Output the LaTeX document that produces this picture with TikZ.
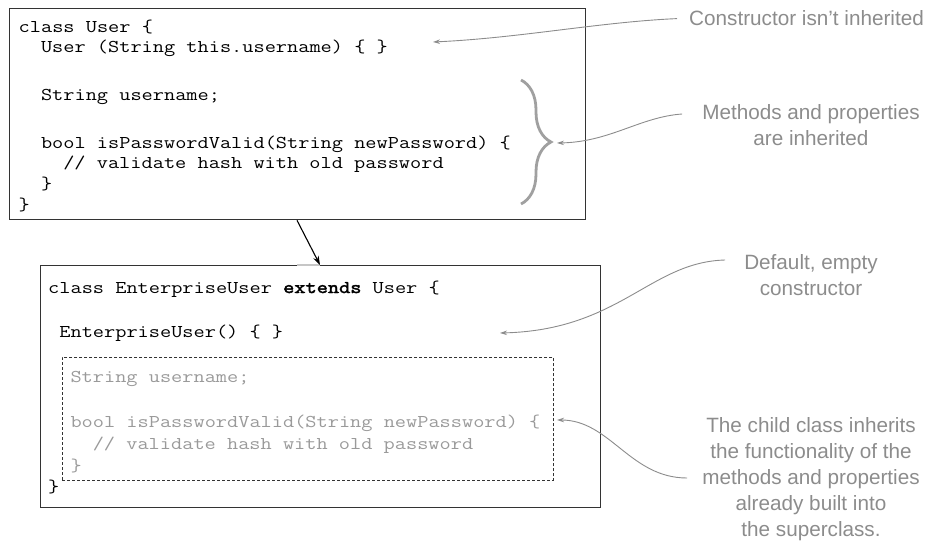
\documentclass[tikz,border=0pt]{standalone}
\usepackage{fontspec}
\setmainfont{Liberation Sans}
\newfontfamily\codefont[FakeStretch=1.207]{Latin Modern Mono}
\newfontfamily\codeboldfont[FakeStretch=1.207, FakeBold=2.5]{Latin Modern Mono}
\usetikzlibrary{arrows.meta,decorations.pathreplacing}
\definecolor{anngray}{HTML}{8C8C8C}
\definecolor{codegray}{HTML}{9A9A9A}
\definecolor{bracegray}{HTML}{A0A0A0}
\definecolor{boxline}{HTML}{333333}
\begin{document}
\begin{tikzpicture}[x=1pt,y=-1pt,
  code/.style={font=\codefont\fontsize{18}{20}\selectfont, inner sep=0pt, anchor=base west, text=black},
  ghost/.style={code, text=codegray},
  ann/.style={font=\fontsize{20.7}{26}\selectfont, text=anngray, align=center, inner sep=0pt},
  annarrow/.style={draw=anngray, line width=0.9pt, -{Stealth[length=7pt,width=4.5pt]}},
  box/.style={draw=boxline, line width=1.3pt, inner sep=0pt, anchor=north west}]
\useasboundingbox (0,0) rectangle (932,543);

% boxes
\node[box, minimum width=576pt, minimum height=211pt] (userbox) at (9,8) {};
\node[box, minimum width=560pt, minimum height=242pt] (entbox) at (40,265) {};
\node[box, draw=boxline, line width=0.9pt, dash pattern=on 3pt off 2pt, minimum width=491pt, minimum height=123pt] (inhbox) at (62,357) {};

% User class code
\node[code] (u1) at (18.5,32.5) {class User \{};
\node[code] (u2) at (40.8,53) {User (String this.username) \{ \}};
\node[code] (u3) at (40.8,100) {String username;};
\node[code] (u4) at (40.8,148) {bool isPasswordValid(String newPassword) \{};
\node[code] (u5) at (63.1,168) {// validate hash with old password};
\node[code] (u6) at (40.8,189) {\}};
\node[code] (u7) at (18.5,210) {\}};

% EnterpriseUser class code
\node[code] (e1) at (48,293) {class EnterpriseUser {\codeboldfont extends} User \{};
\node[code] (e2) at (59.2,337) {EnterpriseUser() \{ \}};
\node[ghost] (e3) at (70.3,382) {String username;};
\node[ghost] (e4) at (70.3,427) {bool isPasswordValid(String newPassword) \{};
\node[ghost] (e5) at (92.6,449) {// validate hash with old password};
\node[ghost] (e6) at (70.3,471) {\}};
\node[code] (e7) at (48,492) {\}};

% inheritance arrow
\draw[draw=gray!45, line width=1.6pt] ([xshift=257pt]entbox.north west) -- ([xshift=280pt]entbox.north west);
\draw[-{Stealth[length=9pt,width=6pt]}, line width=1.1pt] ([xshift=288pt]userbox.south west) -- ([xshift=280pt]entbox.north west);

% brace
\draw[draw=bracegray, line width=2.8pt, decorate, decoration={brace, amplitude=30pt, aspect=0.5}] (521,80) -- (521,204);

% annotations
\node[ann, anchor=base west] (ctor) at (689,26) {Constructor isn’t inherited};
\node[ann, anchor=north] (meth) at (811,104) {Methods and properties\\are inherited};
\node[ann, anchor=north] (deflt) at (811,254) {Default, empty\\constructor};
\node[ann, anchor=north] (child) at (811,417) {The child class inherits\\the functionality of the\\methods and properties\\already built into\\the superclass.};

\coordinate (ctortip) at (433,42);
\coordinate (methtip) at (557,143);
\coordinate (defltip) at (500,333);
\coordinate (childtip) at (557,420);

\draw[annarrow] ([xshift=-12pt]ctor.west) .. controls (600,22) and (520,38) .. (ctortip);
\draw[annarrow] ([shift={(-20pt,-10pt)}]meth.north west) .. controls (640,117) and (610,142) .. (methtip);
\draw[annarrow] ([shift={(-19pt,-6pt)}]deflt.north west) .. controls (650,262) and (620,330) .. (defltip);
\draw[annarrow] ([shift={(-15pt,-61pt)}]child.north west) .. controls (630,478) and (610,420) .. (childtip);
\end{tikzpicture}
\end{document}
